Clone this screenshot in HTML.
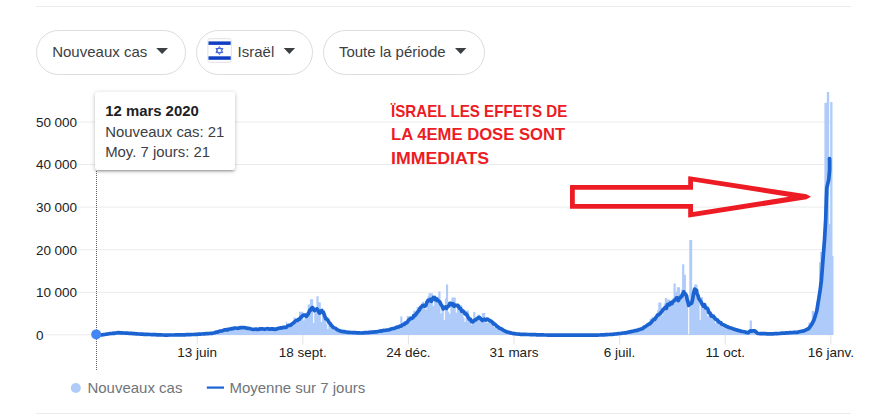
<!DOCTYPE html>
<html lang="fr">
<head>
<meta charset="utf-8">
<title>Israël - Nouveaux cas</title>
<style>
html,body{margin:0;padding:0;background:#fff;}
body{width:879px;height:419px;overflow:hidden;position:relative;font-family:"Liberation Sans",sans-serif;}
#root{position:absolute;left:0;top:0;width:879px;height:419px;overflow:hidden;background:#fff;}
.hr{position:absolute;left:36px;width:815px;height:1px;background:#ebebeb;}
.btn{position:absolute;top:30px;height:42.5px;border:1px solid #dadce0;border-radius:23px;background:#fff;box-sizing:content-box;}
.btn .t{position:absolute;top:11.6px;font-size:15px;line-height:18px;color:#3c4043;white-space:nowrap;}
.caret{position:absolute;top:17.2px;width:0;height:0;border-left:5.9px solid transparent;border-right:5.9px solid transparent;border-top:5.9px solid #3c4043;}
.yl{position:absolute;left:33px;padding:0 1.2px 0 3.1px;background:#fff;font-size:13.5px;line-height:16px;color:#202124;white-space:nowrap;}
.ts{display:inline-block;width:3.4px;}
.xl{position:absolute;top:344.5px;width:80px;text-align:center;font-size:13.5px;line-height:16px;color:#202124;white-space:nowrap;}
#tip{position:absolute;left:95px;top:92px;width:139.6px;height:77.5px;background:#fff;border-radius:2.5px;box-shadow:0 2px 2px 0 rgba(0,0,0,.14),0 3px 1px -2px rgba(0,0,0,.12),0 1px 5px 0 rgba(0,0,0,.2);}
#tip div{position:absolute;left:10.2px;white-space:nowrap;color:#3c4043;font-size:14.9px;line-height:18px;}
#tip .b{top:9.5px;font-weight:bold;color:#202124;}
.leg{position:absolute;top:378.5px;font-size:15px;line-height:18px;color:#70757a;white-space:nowrap;}
#red{position:absolute;left:390.9px;top:99.5px;color:#ed1c24;font-weight:bold;font-size:16.6px;line-height:23.9px;white-space:nowrap;}
#red span{display:block;transform-origin:0 0;}
svg{position:absolute;left:0;top:0;}
</style>
</head>
<body>
<div id="root">
<div class="hr" style="top:6px"></div>
<div class="hr" style="top:413px"></div>

<div class="btn" style="left:36px;width:147.5px"><span class="t" style="left:15.2px">Nouveaux cas</span></div>
<div class="btn" style="left:196px;width:115px"><span class="t" style="left:40.6px">Israël</span></div>
<div class="btn" style="left:323px;width:160px"><span class="t" style="left:14.9px">Toute la période</span></div>

<svg width="879" height="419" viewBox="0 0 879 419">
  <!-- flag -->
  <g>
    <rect x="207.9" y="38.7" width="23.4" height="23.6" rx="2.2" fill="#fff" stroke="#dfe1e5" stroke-width="1"/>
    <rect x="208.5" y="41.4" width="22.2" height="3.5" fill="#0f3fc2"/>
    <rect x="208.5" y="56.3" width="22.2" height="3.5" fill="#0f3fc2"/>
    <g fill="none" stroke="#3f66d6" stroke-width="1.0" stroke-linejoin="miter">
      <path d="M219.4 46.5L222.9 52.6H215.9Z"/>
      <path d="M219.4 54.6L222.9 48.5H215.9Z"/>
    </g>
  </g>
  <!-- carets -->
  <path d="M156.2 48.1H168.0L162.1 53.9ZM283.7 48.1H295.1L289.4 53.9ZM455.0 48.1H466.4L460.7 53.9Z" fill="#3c4043"/>
  <!-- grid -->
  <rect x="36" y="121.5" width="794" height="1" fill="#ebebeb"/><rect x="36" y="164.0" width="794" height="1" fill="#ebebeb"/><rect x="36" y="206.6" width="794" height="1" fill="#ebebeb"/><rect x="36" y="249.2" width="794" height="1" fill="#ebebeb"/><rect x="36" y="291.8" width="794" height="1" fill="#ebebeb"/><rect x="36" y="334.3" width="794" height="1" fill="#ebebeb"/>
  <rect x="196.7" y="335" width="1" height="9.5" fill="#e3e3e3"/><rect x="302.3" y="335" width="1" height="9.5" fill="#e3e3e3"/><rect x="407.9" y="335" width="1" height="9.5" fill="#e3e3e3"/><rect x="513.5" y="335" width="1" height="9.5" fill="#e3e3e3"/><rect x="619.1" y="335" width="1" height="9.5" fill="#e3e3e3"/><rect x="724.7" y="335" width="1" height="9.5" fill="#e3e3e3"/><rect x="830.3" y="335" width="1" height="9.5" fill="#e3e3e3"/>
  <!-- bars -->
  <path d="M96.49 335.0V334.8H97.58V335.0ZM97.58 335.0V334.8H98.67V335.0ZM98.67 335.0V334.8H99.76V335.0ZM99.76 335.0V334.8H100.85V335.0ZM100.85 335.0V334.8H101.94V335.0ZM101.94 335.0V334.6H103.03V335.0ZM103.03 335.0V334.5H104.12V335.0ZM104.12 335.0V334.4H105.20V335.0ZM105.20 335.0V334.3H106.29V335.0ZM106.29 335.0V334.0H107.38V335.0ZM107.38 335.0V333.7H108.47V335.0ZM108.47 335.0V333.5H109.56V335.0ZM109.56 335.0V333.4H110.65V335.0ZM110.65 335.0V333.2H111.74V335.0ZM111.74 335.0V333.5H112.82V335.0ZM112.82 335.0V333.6H113.91V335.0ZM113.91 335.0V333.0H115.00V335.0ZM115.00 335.0V332.6H116.09V335.0ZM116.09 335.0V332.6H117.18V335.0ZM117.18 335.0V332.6H118.27V335.0ZM118.27 335.0V332.5H119.36V335.0ZM119.36 335.0V333.1H120.45V335.0ZM120.45 335.0V333.3H121.53V335.0ZM121.53 335.0V333.0H122.62V335.0ZM122.62 335.0V332.9H123.71V335.0ZM123.71 335.0V333.0H124.80V335.0ZM124.80 335.0V333.0H125.89V335.0ZM125.89 335.0V333.0H126.98V335.0ZM126.98 335.0V333.4H128.07V335.0ZM128.07 335.0V333.7H129.16V335.0ZM129.16 335.0V333.4H130.24V335.0ZM130.24 335.0V333.4H131.33V335.0ZM131.33 335.0V333.4H132.42V335.0ZM132.42 335.0V333.6H133.51V335.0ZM133.51 335.0V333.7H134.60V335.0ZM134.60 335.0V333.9H135.69V335.0ZM135.69 335.0V334.1H136.78V335.0ZM136.78 335.0V334.0H137.86V335.0ZM137.86 335.0V334.0H138.95V335.0ZM138.95 335.0V334.0H140.04V335.0ZM140.04 335.0V334.1H141.13V335.0ZM141.13 335.0V334.2H142.22V335.0ZM142.22 335.0V334.3H143.31V335.0ZM143.31 335.0V334.4H144.40V335.0ZM144.40 335.0V334.4H145.49V335.0ZM145.49 335.0V334.3H146.57V335.0ZM146.57 335.0V334.4H147.66V335.0ZM147.66 335.0V334.4H148.75V335.0ZM148.75 335.0V334.5H149.84V335.0ZM149.84 335.0V334.6H150.93V335.0ZM150.93 335.0V334.7H152.02V335.0ZM152.02 335.0V334.7H153.11V335.0ZM153.11 335.0V334.7H154.20V335.0ZM154.20 335.0V334.7H155.28V335.0ZM155.28 335.0V334.8H156.37V335.0ZM156.37 335.0V334.8H157.46V335.0ZM182.50 335.0V334.8H183.59V335.0ZM183.59 335.0V334.8H184.68V335.0ZM184.68 335.0V334.7H185.77V335.0ZM185.77 335.0V334.7H186.86V335.0ZM186.86 335.0V334.6H187.95V335.0ZM187.95 335.0V334.7H189.03V335.0ZM189.03 335.0V334.7H190.12V335.0ZM190.12 335.0V334.5H191.21V335.0ZM191.21 335.0V334.4H192.30V335.0ZM192.30 335.0V334.4H193.39V335.0ZM193.39 335.0V334.4H194.48V335.0ZM194.48 335.0V334.3H195.57V335.0ZM195.57 335.0V334.3H196.65V335.0ZM196.65 335.0V334.4H197.74V335.0ZM197.74 335.0V334.1H198.83V335.0ZM198.83 335.0V334.0H199.92V335.0ZM199.92 335.0V333.9H201.01V335.0ZM201.01 335.0V333.9H202.10V335.0ZM202.10 335.0V333.8H203.19V335.0ZM203.19 335.0V333.8H204.28V335.0ZM204.28 335.0V334.0H205.36V335.0ZM205.36 335.0V333.7H206.45V335.0ZM206.45 335.0V333.5H207.54V335.0ZM207.54 335.0V333.4H208.63V335.0ZM208.63 335.0V333.4H209.72V335.0ZM209.72 335.0V333.3H210.81V335.0ZM210.81 335.0V333.5H211.90V335.0ZM211.90 335.0V333.5H212.99V335.0ZM212.99 335.0V332.8H214.07V335.0ZM214.07 335.0V332.2H215.16V335.0ZM215.16 335.0V331.9H216.25V335.0ZM216.25 335.0V331.5H217.34V335.0ZM217.34 335.0V331.3H218.43V335.0ZM218.43 335.0V331.5H219.52V335.0ZM219.52 335.0V331.8H220.61V335.0ZM220.61 335.0V330.6H221.69V335.0ZM221.69 335.0V330.1H222.78V335.0ZM222.78 335.0V329.5H223.87V335.0ZM223.87 335.0V329.4H224.96V335.0ZM224.96 335.0V329.2H226.05V335.0ZM226.05 335.0V329.7H227.14V335.0ZM227.14 335.0V330.5H228.23V335.0ZM228.23 335.0V329.1H229.32V335.0ZM229.32 335.0V328.4H230.40V335.0ZM230.40 335.0V328.0H231.49V335.0ZM231.49 335.0V328.3H232.58V335.0ZM232.58 335.0V328.2H233.67V335.0ZM233.67 335.0V328.9H234.76V335.0ZM234.76 335.0V329.8H235.85V335.0ZM235.85 335.0V328.1H236.94V335.0ZM236.94 335.0V327.6H238.03V335.0ZM238.03 335.0V327.8H239.11V335.0ZM239.11 335.0V327.7H240.20V335.0ZM240.20 335.0V327.8H241.29V335.0ZM241.29 335.0V328.5H242.38V335.0ZM242.38 335.0V329.6H243.47V335.0ZM243.47 335.0V327.4H244.56V335.0ZM244.56 335.0V327.1H245.65V335.0ZM245.65 335.0V327.8H246.73V335.0ZM246.73 335.0V328.1H247.82V335.0ZM247.82 335.0V328.3H248.91V335.0ZM248.91 335.0V329.3H250.00V335.0ZM250.00 335.0V330.5H251.09V335.0ZM251.09 335.0V329.0H252.18V335.0ZM252.18 335.0V328.5H253.27V335.0ZM253.27 335.0V328.9H254.36V335.0ZM254.36 335.0V328.9H255.44V335.0ZM255.44 335.0V329.2H256.53V335.0ZM256.53 335.0V329.8H257.62V335.0ZM257.62 335.0V330.5H258.71V335.0ZM258.71 335.0V329.2H259.80V335.0ZM259.80 335.0V328.1H260.89V335.0ZM260.89 335.0V328.6H261.98V335.0ZM261.98 335.0V328.9H263.07V335.0ZM263.07 335.0V328.3H264.15V335.0ZM264.15 335.0V329.4H265.24V335.0ZM265.24 335.0V330.5H266.33V335.0ZM266.33 335.0V329.0H267.42V335.0ZM267.42 335.0V328.7H268.51V335.0ZM268.51 335.0V328.5H269.60V335.0ZM269.60 335.0V328.4H270.69V335.0ZM270.69 335.0V328.5H271.78V335.0ZM271.78 335.0V329.4H272.86V335.0ZM272.86 335.0V330.5H273.95V335.0ZM273.95 335.0V329.1H275.04V335.0ZM275.04 335.0V328.4H276.13V335.0ZM276.13 335.0V328.0H277.22V335.0ZM277.22 335.0V328.0H278.31V335.0ZM278.31 335.0V327.7H279.40V335.0ZM279.40 335.0V328.8H280.48V335.0ZM280.48 335.0V329.6H281.57V335.0ZM281.57 335.0V327.5H282.66V335.0ZM282.66 335.0V326.4H283.75V335.0ZM283.75 335.0V326.4H284.84V335.0ZM284.84 335.0V326.0H285.93V335.0ZM285.93 335.0V321.8H287.02V335.0ZM287.02 335.0V326.4H288.11V335.0ZM288.11 335.0V327.7H289.19V335.0ZM289.19 335.0V324.8H290.28V335.0ZM290.28 335.0V323.5H291.37V335.0ZM291.37 335.0V323.2H292.46V335.0ZM292.46 335.0V322.6H293.55V335.0ZM293.55 335.0V317.6H294.64V335.0ZM294.64 335.0V317.6H295.73V335.0ZM295.73 335.0V323.1H296.82V335.0ZM296.82 335.0V318.5H297.90V335.0ZM297.90 335.0V316.9H298.99V335.0ZM298.99 335.0V311.8H300.08V335.0ZM300.08 335.0V311.8H301.17V335.0ZM301.17 335.0V311.8H302.26V335.0ZM302.26 335.0V311.8H303.35V335.0ZM303.35 335.0V320.4H304.44V335.0ZM304.44 335.0V316.8H305.52V335.0ZM305.52 335.0V313.8H306.61V335.0ZM306.61 335.0V312.1H307.70V335.0ZM307.70 335.0V304.4H308.79V335.0ZM308.79 335.0V304.4H309.88V335.0ZM309.88 335.0V299.2H310.97V335.0ZM310.97 335.0V299.2H312.06V335.0ZM312.06 335.0V299.2H313.15V335.0ZM313.15 335.0V323.0H314.23V335.0ZM314.23 335.0V309.2H315.32V335.0ZM315.32 335.0V308.2H316.41V335.0ZM316.41 335.0V296.3H317.50V335.0ZM317.50 335.0V296.3H318.59V335.0ZM318.59 335.0V302.2H319.68V335.0ZM319.68 335.0V302.2H320.77V335.0ZM320.77 335.0V322.0H321.86V335.0ZM321.86 335.0V309.7H322.94V335.0ZM322.94 335.0V314.3H324.03V335.0ZM324.03 335.0V316.6H325.12V335.0ZM325.12 335.0V320.0H326.21V335.0ZM326.21 335.0V324.0H327.30V335.0ZM327.30 335.0V329.0H328.39V335.0ZM328.39 335.0V321.7H329.48V335.0ZM329.48 335.0V323.6H330.56V335.0ZM330.56 335.0V325.7H331.65V335.0ZM331.65 335.0V327.0H332.74V335.0ZM332.74 335.0V328.6H333.83V335.0ZM333.83 335.0V329.7H334.92V335.0ZM334.92 335.0V329.0H336.01V335.0ZM336.01 335.0V329.5H337.10V335.0ZM337.10 335.0V330.0H338.19V335.0ZM338.19 335.0V330.4H339.27V335.0ZM339.27 335.0V330.8H340.36V335.0ZM340.36 335.0V331.7H341.45V335.0ZM341.45 335.0V332.3H342.54V335.0ZM342.54 335.0V331.9H343.63V335.0ZM343.63 335.0V331.8H344.72V335.0ZM344.72 335.0V331.8H345.81V335.0ZM345.81 335.0V332.0H346.90V335.0ZM346.90 335.0V332.2H347.98V335.0ZM347.98 335.0V332.5H349.07V335.0ZM349.07 335.0V333.0H350.16V335.0ZM350.16 335.0V332.4H351.25V335.0ZM351.25 335.0V332.2H352.34V335.0ZM352.34 335.0V332.5H353.43V335.0ZM353.43 335.0V332.6H354.52V335.0ZM354.52 335.0V332.7H355.60V335.0ZM355.60 335.0V333.0H356.69V335.0ZM356.69 335.0V333.3H357.78V335.0ZM357.78 335.0V333.0H358.87V335.0ZM358.87 335.0V332.8H359.96V335.0ZM359.96 335.0V332.9H361.05V335.0ZM361.05 335.0V332.7H362.14V335.0ZM362.14 335.0V332.7H363.23V335.0ZM363.23 335.0V332.9H364.31V335.0ZM364.31 335.0V333.1H365.40V335.0ZM365.40 335.0V332.5H366.49V335.0ZM366.49 335.0V332.3H367.58V335.0ZM367.58 335.0V332.1H368.67V335.0ZM368.67 335.0V332.2H369.76V335.0ZM369.76 335.0V332.1H370.85V335.0ZM370.85 335.0V332.4H371.94V335.0ZM371.94 335.0V332.8H373.02V335.0ZM373.02 335.0V332.0H374.11V335.0ZM374.11 335.0V331.7H375.20V335.0ZM375.20 335.0V331.7H376.29V335.0ZM376.29 335.0V331.3H377.38V335.0ZM377.38 335.0V331.4H378.47V335.0ZM378.47 335.0V331.5H379.56V335.0ZM379.56 335.0V331.9H380.65V335.0ZM380.65 335.0V330.9H381.73V335.0ZM381.73 335.0V330.4H382.82V335.0ZM382.82 335.0V330.2H383.91V335.0ZM383.91 335.0V330.1H385.00V335.0ZM385.00 335.0V329.8H386.09V335.0ZM386.09 335.0V330.6H387.18V335.0ZM387.18 335.0V330.9H388.27V335.0ZM388.27 335.0V329.6H389.35V335.0ZM389.35 335.0V328.7H390.44V335.0ZM390.44 335.0V328.2H391.53V335.0ZM391.53 335.0V328.2H392.62V335.0ZM392.62 335.0V327.9H393.71V335.0ZM393.71 335.0V328.4H394.80V335.0ZM394.80 335.0V329.1H395.89V335.0ZM395.89 335.0V327.5H396.98V335.0ZM396.98 335.0V326.2H398.06V335.0ZM398.06 335.0V325.9H399.15V335.0ZM399.15 335.0V325.4H400.24V335.0ZM400.24 335.0V316.4H401.33V335.0ZM401.33 335.0V316.4H402.42V335.0ZM402.42 335.0V326.5H403.51V335.0ZM403.51 335.0V323.5H404.60V335.0ZM404.60 335.0V321.1H405.69V335.0ZM405.69 335.0V320.7H406.77V335.0ZM406.77 335.0V316.0H407.86V335.0ZM407.86 335.0V316.0H408.95V335.0ZM408.95 335.0V316.0H410.04V335.0ZM410.04 335.0V316.0H411.13V335.0ZM411.13 335.0V316.0H412.22V335.0ZM412.22 335.0V313.7H413.31V335.0ZM413.31 335.0V310.4H414.39V335.0ZM414.39 335.0V310.4H415.48V335.0ZM415.48 335.0V312.1H416.57V335.0ZM416.57 335.0V306.9H417.66V335.0ZM417.66 335.0V306.9H418.75V335.0ZM418.75 335.0V306.9H419.84V335.0ZM419.84 335.0V304.7H420.93V335.0ZM420.93 335.0V303.5H422.02V335.0ZM422.02 335.0V301.8H423.10V335.0ZM423.10 335.0V301.8H424.19V335.0ZM424.19 335.0V305.5H425.28V335.0ZM425.28 335.0V309.5H426.37V335.0ZM426.37 335.0V303.1H427.46V335.0ZM427.46 335.0V296.3H428.55V335.0ZM428.55 335.0V293.2H429.64V335.0ZM429.64 335.0V293.2H430.73V335.0ZM430.73 335.0V293.2H431.81V335.0ZM431.81 335.0V293.2H432.90V335.0ZM432.90 335.0V306.0H433.99V335.0ZM433.99 335.0V297.2H435.08V335.0ZM435.08 335.0V295.6H436.17V335.0ZM436.17 335.0V299.4H437.26V335.0ZM437.26 335.0V299.7H438.35V335.0ZM438.35 335.0V291.5H439.43V335.0ZM439.43 335.0V291.5H440.52V335.0ZM440.52 335.0V313.5H441.61V335.0ZM441.61 335.0V309.2H442.70V335.0ZM442.70 335.0V304.9H443.79V335.0ZM443.79 335.0V320.0H444.88V335.0ZM444.88 335.0V298.6H445.97V335.0ZM445.97 335.0V284.6H447.06V335.0ZM447.06 335.0V284.6H448.14V335.0ZM448.14 335.0V311.8H449.23V335.0ZM449.23 335.0V314.0H450.32V335.0ZM450.32 335.0V301.0H451.41V335.0ZM451.41 335.0V297.5H452.50V335.0ZM452.50 335.0V297.5H453.59V335.0ZM453.59 335.0V297.5H454.68V335.0ZM454.68 335.0V297.5H455.77V335.0ZM455.77 335.0V312.8H456.85V335.0ZM456.85 335.0V306.8H457.94V335.0ZM457.94 335.0V306.1H459.03V335.0ZM459.03 335.0V305.2H460.12V335.0ZM460.12 335.0V305.2H461.21V335.0ZM461.21 335.0V305.2H462.30V335.0ZM462.30 335.0V314.3H463.39V335.0ZM463.39 335.0V317.4H464.47V335.0ZM464.47 335.0V322.0H465.56V335.0ZM465.56 335.0V310.4H466.65V335.0ZM466.65 335.0V310.4H467.74V335.0ZM467.74 335.0V310.4H468.83V335.0ZM468.83 335.0V319.1H469.92V335.0ZM469.92 335.0V322.2H471.01V335.0ZM471.01 335.0V324.7H472.10V335.0ZM472.10 335.0V321.3H473.18V335.0ZM473.18 335.0V312.0H474.27V335.0ZM474.27 335.0V312.0H475.36V335.0ZM475.36 335.0V318.8H476.45V335.0ZM476.45 335.0V316.7H477.54V335.0ZM477.54 335.0V314.6H478.63V335.0ZM478.63 335.0V314.6H479.72V335.0ZM479.72 335.0V320.0H480.81V335.0ZM480.81 335.0V317.9H481.89V335.0ZM481.89 335.0V313.0H482.98V335.0ZM482.98 335.0V313.0H484.07V335.0ZM484.07 335.0V313.0H485.16V335.0ZM485.16 335.0V321.1H486.25V335.0ZM486.25 335.0V322.9H487.34V335.0ZM487.34 335.0V319.5H488.43V335.0ZM488.43 335.0V319.8H489.52V335.0ZM489.52 335.0V321.0H490.60V335.0ZM490.60 335.0V321.4H491.69V335.0ZM491.69 335.0V322.7H492.78V335.0ZM492.78 335.0V325.2H493.87V335.0ZM493.87 335.0V327.3H494.96V335.0ZM494.96 335.0V326.1H496.05V335.0ZM496.05 335.0V326.0H497.14V335.0ZM497.14 335.0V327.0H498.22V335.0ZM498.22 335.0V328.0H499.31V335.0ZM499.31 335.0V328.4H500.40V335.0ZM500.40 335.0V330.0H501.49V335.0ZM501.49 335.0V331.1H502.58V335.0ZM502.58 335.0V330.7H503.67V335.0ZM503.67 335.0V330.8H504.76V335.0ZM504.76 335.0V331.6H505.85V335.0ZM505.85 335.0V331.9H506.93V335.0ZM506.93 335.0V332.3H508.02V335.0ZM508.02 335.0V332.7H509.11V335.0ZM509.11 335.0V333.3H510.20V335.0ZM510.20 335.0V333.2H511.29V335.0ZM511.29 335.0V333.3H512.38V335.0ZM512.38 335.0V333.5H513.47V335.0ZM513.47 335.0V333.7H514.56V335.0ZM514.56 335.0V333.8H515.64V335.0ZM515.64 335.0V334.1H516.73V335.0ZM516.73 335.0V334.3H517.82V335.0ZM517.82 335.0V334.2H518.91V335.0ZM518.91 335.0V334.2H520.00V335.0ZM520.00 335.0V334.3H521.09V335.0ZM521.09 335.0V334.3H522.18V335.0ZM522.18 335.0V334.3H523.26V335.0ZM523.26 335.0V334.5H524.35V335.0ZM524.35 335.0V334.6H525.44V335.0ZM525.44 335.0V334.5H526.53V335.0ZM526.53 335.0V334.5H527.62V335.0ZM527.62 335.0V334.5H528.71V335.0ZM528.71 335.0V334.6H529.80V335.0ZM529.80 335.0V334.6H530.89V335.0ZM530.89 335.0V334.7H531.97V335.0ZM531.97 335.0V334.7H533.06V335.0ZM533.06 335.0V334.7H534.15V335.0ZM534.15 335.0V334.7H535.24V335.0ZM535.24 335.0V334.7H536.33V335.0ZM536.33 335.0V334.8H537.42V335.0ZM537.42 335.0V334.8H538.51V335.0ZM601.65 335.0V334.8H602.74V335.0ZM602.74 335.0V334.7H603.83V335.0ZM603.83 335.0V334.7H604.92V335.0ZM604.92 335.0V334.6H606.01V335.0ZM606.01 335.0V334.6H607.09V335.0ZM607.09 335.0V334.6H608.18V335.0ZM608.18 335.0V334.6H609.27V335.0ZM609.27 335.0V334.4H610.36V335.0ZM610.36 335.0V334.3H611.45V335.0ZM611.45 335.0V334.2H612.54V335.0ZM612.54 335.0V334.1H613.63V335.0ZM613.63 335.0V334.0H614.72V335.0ZM614.72 335.0V334.0H615.80V335.0ZM615.80 335.0V334.0H616.89V335.0ZM616.89 335.0V333.6H617.98V335.0ZM617.98 335.0V333.3H619.07V335.0ZM619.07 335.0V333.2H620.16V335.0ZM620.16 335.0V333.2H621.25V335.0ZM621.25 335.0V333.0H622.34V335.0ZM622.34 335.0V333.2H623.43V335.0ZM623.43 335.0V333.4H624.51V335.0ZM624.51 335.0V332.7H625.60V335.0ZM625.60 335.0V332.2H626.69V335.0ZM626.69 335.0V332.1H627.78V335.0ZM627.78 335.0V331.8H628.87V335.0ZM628.87 335.0V331.5H629.96V335.0ZM629.96 335.0V331.8H631.05V335.0ZM631.05 335.0V332.1H632.13V335.0ZM632.13 335.0V331.0H633.22V335.0ZM633.22 335.0V330.3H634.31V335.0ZM634.31 335.0V330.1H635.40V335.0ZM635.40 335.0V330.0H636.49V335.0ZM636.49 335.0V329.7H637.58V335.0ZM637.58 335.0V330.4H638.67V335.0ZM638.67 335.0V330.9H639.76V335.0ZM639.76 335.0V329.0H640.84V335.0ZM640.84 335.0V327.5H641.93V335.0ZM641.93 335.0V327.3H643.02V335.0ZM643.02 335.0V326.6H644.11V335.0ZM644.11 335.0V326.5H645.20V335.0ZM645.20 335.0V327.0H646.29V335.0ZM646.29 335.0V327.5H647.38V335.0ZM647.38 335.0V324.1H648.47V335.0ZM648.47 335.0V321.9H649.55V335.0ZM649.55 335.0V318.8H650.64V335.0ZM650.64 335.0V318.8H651.73V335.0ZM651.73 335.0V316.7H652.82V335.0ZM652.82 335.0V316.7H653.91V335.0ZM653.91 335.0V322.1H655.00V335.0ZM655.00 335.0V317.8H656.09V335.0ZM656.09 335.0V313.1H657.17V335.0ZM657.17 335.0V310.2H658.26V335.0ZM658.26 335.0V302.4H659.35V335.0ZM659.35 335.0V302.4H660.44V335.0ZM660.44 335.0V302.4H661.53V335.0ZM661.53 335.0V315.4H662.62V335.0ZM662.62 335.0V307.7H663.71V335.0ZM663.71 335.0V303.4H664.80V335.0ZM664.80 335.0V298.0H665.88V335.0ZM665.88 335.0V298.0H666.97V335.0ZM666.97 335.0V299.5H668.06V335.0ZM668.06 335.0V299.5H669.15V335.0ZM669.15 335.0V299.5H670.24V335.0ZM670.24 335.0V302.0H671.33V335.0ZM671.33 335.0V299.5H672.42V335.0ZM672.42 335.0V298.0H673.51V335.0ZM673.51 335.0V283.4H674.59V335.0ZM674.59 335.0V283.4H675.68V335.0ZM675.68 335.0V291.6H676.77V335.0ZM676.77 335.0V287.3H677.86V335.0ZM677.86 335.0V287.3H678.95V335.0ZM678.95 335.0V287.3H680.04V335.0ZM680.04 335.0V293.4H681.13V335.0ZM681.13 335.0V289.3H682.21V335.0ZM682.21 335.0V289.8H683.30V335.0ZM683.30 335.0V298.6H684.39V335.0ZM684.39 335.0V305.4H685.48V335.0ZM685.48 335.0V298.0H686.57V335.0ZM686.57 335.0V299.8H687.66V335.0ZM687.66 335.0V303.3H688.75V335.0ZM688.75 335.0V303.6H689.84V335.0ZM689.84 335.0V302.4H690.92V335.0ZM690.92 335.0V302.8H692.01V335.0ZM692.01 335.0V302.2H693.10V335.0ZM693.10 335.0V292.6H694.19V335.0ZM694.19 335.0V284.4H695.28V335.0ZM695.28 335.0V284.4H696.37V335.0ZM696.37 335.0V284.4H697.46V335.0ZM697.46 335.0V295.3H698.55V335.0ZM698.55 335.0V297.0H699.63V335.0ZM699.63 335.0V320.0H700.72V335.0ZM700.72 335.0V297.0H701.81V335.0ZM701.81 335.0V297.0H702.90V335.0ZM702.90 335.0V303.9H703.99V335.0ZM703.99 335.0V303.6H705.08V335.0ZM705.08 335.0V306.1H706.17V335.0ZM706.17 335.0V311.4H707.26V335.0ZM707.26 335.0V316.4H708.34V335.0ZM708.34 335.0V313.4H709.43V335.0ZM709.43 335.0V313.7H710.52V335.0ZM710.52 335.0V314.9H711.61V335.0ZM711.61 335.0V314.8H712.70V335.0ZM712.70 335.0V314.5H713.79V335.0ZM713.79 335.0V314.5H714.88V335.0ZM714.88 335.0V323.3H715.96V335.0ZM715.96 335.0V321.1H717.05V335.0ZM717.05 335.0V320.4H718.14V335.0ZM718.14 335.0V321.8H719.23V335.0ZM719.23 335.0V322.5H720.32V335.0ZM720.32 335.0V322.7H721.41V335.0ZM721.41 335.0V324.9H722.50V335.0ZM722.50 335.0V327.1H723.59V335.0ZM723.59 335.0V325.7H724.67V335.0ZM724.67 335.0V325.2H725.76V335.0ZM725.76 335.0V325.8H726.85V335.0ZM726.85 335.0V326.7H727.94V335.0ZM727.94 335.0V327.1H729.03V335.0ZM729.03 335.0V328.8H730.12V335.0ZM730.12 335.0V329.7H731.21V335.0ZM731.21 335.0V328.7H732.30V335.0ZM732.30 335.0V328.3H733.38V335.0ZM733.38 335.0V328.9H734.47V335.0ZM734.47 335.0V329.6H735.56V335.0ZM735.56 335.0V330.2H736.65V335.0ZM736.65 335.0V330.7H737.74V335.0ZM737.74 335.0V331.8H738.83V335.0ZM738.83 335.0V331.0H739.92V335.0ZM739.92 335.0V330.9H741.00V335.0ZM741.00 335.0V331.3H742.09V335.0ZM742.09 335.0V331.5H743.18V335.0ZM743.18 335.0V331.7H744.27V335.0ZM744.27 335.0V332.5H745.36V335.0ZM745.36 335.0V333.0H746.45V335.0ZM746.45 335.0V332.8H747.54V335.0ZM747.54 335.0V331.7H748.63V335.0ZM748.63 335.0V330.7H749.71V335.0ZM749.71 335.0V320.6H750.80V335.0ZM750.80 335.0V320.6H751.89V335.0ZM751.89 335.0V331.4H752.98V335.0ZM752.98 335.0V331.8H754.07V335.0ZM754.07 335.0V331.6H755.16V335.0ZM755.16 335.0V332.5H756.25V335.0ZM756.25 335.0V333.3H757.34V335.0ZM757.34 335.0V333.4H758.42V335.0ZM758.42 335.0V333.5H759.51V335.0ZM759.51 335.0V333.8H760.60V335.0ZM760.60 335.0V334.0H761.69V335.0ZM761.69 335.0V333.7H762.78V335.0ZM762.78 335.0V333.6H763.87V335.0ZM763.87 335.0V333.7H764.96V335.0ZM764.96 335.0V333.7H766.04V335.0ZM766.04 335.0V333.7H767.13V335.0ZM767.13 335.0V333.9H768.22V335.0ZM768.22 335.0V334.0H769.31V335.0ZM769.31 335.0V333.8H770.40V335.0ZM770.40 335.0V333.8H771.49V335.0ZM771.49 335.0V333.8H772.58V335.0ZM772.58 335.0V333.7H773.67V335.0ZM773.67 335.0V333.7H774.75V335.0ZM774.75 335.0V333.8H775.84V335.0ZM775.84 335.0V333.9H776.93V335.0ZM776.93 335.0V333.5H778.02V335.0ZM778.02 335.0V333.2H779.11V335.0ZM779.11 335.0V333.3H780.20V335.0ZM780.20 335.0V333.2H781.29V335.0ZM781.29 335.0V333.1H782.38V335.0ZM782.38 335.0V333.2H783.46V335.0ZM783.46 335.0V333.5H784.55V335.0ZM784.55 335.0V333.0H785.64V335.0ZM785.64 335.0V332.8H786.73V335.0ZM786.73 335.0V332.7H787.82V335.0ZM787.82 335.0V332.7H788.91V335.0ZM788.91 335.0V332.5H790.00V335.0ZM790.00 335.0V332.8H791.08V335.0ZM791.08 335.0V333.1H792.17V335.0ZM792.17 335.0V332.6H793.26V335.0ZM793.26 335.0V332.3H794.35V335.0ZM794.35 335.0V332.1H795.44V335.0ZM795.44 335.0V332.1H796.53V335.0ZM796.53 335.0V332.0H797.62V335.0ZM797.62 335.0V332.1H798.71V335.0ZM798.71 335.0V332.5H799.79V335.0ZM799.79 335.0V331.4H800.88V335.0ZM800.88 335.0V330.5H801.97V335.0ZM801.97 335.0V330.3H803.06V335.0ZM803.06 335.0V330.1H804.15V335.0ZM804.15 335.0V329.6H805.24V335.0ZM805.24 335.0V330.1H806.33V335.0ZM806.33 335.0V330.5H807.42V335.0ZM807.42 335.0V328.4H808.50V335.0ZM808.50 335.0V322.5H809.59V335.0ZM809.59 335.0V322.5H810.68V335.0ZM810.68 335.0V322.2H811.77V335.0ZM811.77 335.0V311.0H812.86V335.0ZM812.86 335.0V311.0H813.95V335.0ZM813.95 335.0V319.0H815.04V335.0ZM815.04 335.0V311.6H816.13V335.0ZM816.13 335.0V302.4H817.21V335.0ZM817.21 335.0V297.8H818.30V335.0ZM818.30 335.0V288.2H819.39V335.0ZM689.30 335.0V240.0H692.15V335.0ZM682.10 335.0V264.2H684.30V335.0ZM684.30 335.0V274.7H685.90V335.0ZM819.00 335.0V262.0H820.20V335.0ZM820.20 335.0V252.0H822.00V335.0ZM822.00 335.0V246.0H823.20V335.0ZM823.20 335.0V238.0H824.40V335.0ZM824.40 335.0V102.7H826.80V335.0ZM826.80 335.0V91.9H829.20V335.0ZM829.20 335.0V224.0H830.20V335.0ZM830.20 335.0V102.0H832.50V335.0ZM832.50 335.0V256.0H833.50V335.0Z" fill="#aecbfa"/>
  <rect x="688.15" y="296" width="1.1" height="38.3" fill="#fff"/>
  <!-- dotted guide -->
  <line x1="96.5" y1="171" x2="96.5" y2="370" stroke="#5f6368" stroke-width="1" stroke-dasharray="1 1"/>
  <!-- average line -->
  <path d="M97.0 334.8L98.1 334.8L99.2 334.8L100.3 334.8L101.4 334.8L102.5 334.8L103.6 334.6L104.7 334.5L105.7 334.3L106.8 334.1L107.9 334.0L109.0 333.8L110.1 333.6L111.2 333.5L112.3 333.4L113.4 333.2L114.5 333.3L115.5 333.0L116.6 332.9L117.7 332.7L118.8 332.7L119.9 332.8L121.0 332.8L122.1 332.9L123.2 333.0L124.3 333.0L125.3 333.1L126.4 333.1L127.5 333.1L128.6 333.3L129.7 333.3L130.8 333.4L131.9 333.4L133.0 333.6L134.1 333.6L135.1 333.7L136.2 333.9L137.3 333.9L138.4 334.0L139.5 334.0L140.6 334.1L141.7 334.2L142.8 334.2L143.9 334.3L144.9 334.3L146.0 334.3L147.1 334.4L148.2 334.4L149.3 334.5L150.4 334.5L151.5 334.6L152.6 334.6L153.7 334.7L154.7 334.7L155.8 334.7L156.9 334.8L158.0 334.8L159.1 334.9L160.2 334.9L161.3 334.9L162.4 335.0L163.4 335.0L164.5 335.1L165.6 335.1L166.7 335.1L167.8 335.1L168.9 335.0L170.0 335.0L171.1 335.0L172.2 335.0L173.2 335.0L174.3 335.0L175.4 334.9L176.5 334.9L177.6 334.9L178.7 334.9L179.8 334.9L180.9 334.9L182.0 334.8L183.0 334.8L184.1 334.8L185.2 334.8L186.3 334.7L187.4 334.7L188.5 334.7L189.6 334.6L190.7 334.6L191.8 334.5L192.8 334.5L193.9 334.5L195.0 334.4L196.1 334.4L197.2 334.3L198.3 334.2L199.4 334.1L200.5 334.1L201.6 334.0L202.6 334.0L203.7 333.9L204.8 333.8L205.9 333.7L207.0 333.7L208.1 333.6L209.2 333.5L210.3 333.4L211.4 333.3L212.4 333.3L213.5 333.0L214.6 332.8L215.7 332.3L216.8 332.1L217.9 331.9L219.0 331.5L220.1 331.0L221.2 331.0L222.2 330.9L223.3 330.4L224.4 329.9L225.5 329.8L226.6 329.7L227.7 329.8L228.8 329.3L229.9 329.0L230.9 329.0L232.0 328.5L233.1 328.7L234.2 328.0L235.3 328.0L236.4 328.2L237.5 328.3L238.6 328.1L239.7 328.0L240.7 327.5L241.8 327.7L242.9 327.7L244.0 327.6L245.1 327.8L246.2 327.9L247.3 328.3L248.4 328.4L249.5 328.5L250.5 328.8L251.6 329.1L252.7 329.3L253.8 329.3L254.9 329.3L256.0 329.1L257.1 329.5L258.2 329.4L259.3 329.1L260.3 328.9L261.4 328.8L262.5 328.9L263.6 329.0L264.7 329.3L265.8 329.0L266.9 328.8L268.0 328.6L269.1 329.2L270.1 329.1L271.2 328.8L272.3 329.1L273.4 328.8L274.5 329.5L275.6 329.2L276.7 328.9L277.8 328.6L278.9 328.1L279.9 328.2L281.0 327.8L282.1 328.0L283.2 327.3L284.3 327.3L285.4 327.5L286.5 327.1L287.6 326.0L288.6 325.4L289.7 325.5L290.8 325.1L291.9 324.0L293.0 323.3L294.1 322.4L295.2 321.3L296.3 320.6L297.4 320.5L298.0 319.5L298.4 319.5L299.5 319.3L300.6 317.5L301.7 316.7L302.8 315.5L303.9 315.1L303.9 315.2L305.0 315.1L306.1 315.4L306.3 316.5L307.2 315.3L308.2 313.9L309.3 311.6L310.0 309.8L310.4 310.3L311.5 308.5L312.2 307.6L312.6 307.6L313.7 309.6L314.4 310.5L314.8 310.1L315.9 309.3L316.6 309.8L317.0 309.0L318.0 310.4L319.1 312.6L319.6 313.1L320.2 312.5L321.3 310.8L321.8 310.5L322.4 312.1L323.3 312.0L323.5 312.6L324.6 315.7L325.5 317.9L325.7 318.7L326.8 319.1L327.8 320.1L328.9 322.5L329.2 322.6L330.0 323.3L331.1 325.2L332.2 326.2L333.3 327.4L334.4 328.0L335.5 328.2L336.6 329.3L337.6 329.8L338.7 330.5L339.8 330.8L340.9 331.2L342.0 331.4L343.1 331.6L344.2 331.6L345.3 331.9L346.4 332.0L347.4 332.3L348.5 332.4L349.6 332.3L350.7 332.5L351.8 332.5L352.9 332.6L354.0 332.6L355.1 332.6L356.1 332.7L357.2 332.9L358.3 332.9L359.4 332.9L360.5 333.0L361.6 333.0L362.7 332.9L363.8 332.8L364.9 332.7L365.9 332.6L367.0 332.5L368.1 332.6L369.2 332.4L370.3 332.3L371.4 332.2L372.5 332.2L373.6 332.1L374.7 331.9L375.7 331.9L376.8 331.8L377.9 331.5L379.0 331.3L380.1 331.1L381.2 330.9L382.3 331.0L383.4 330.4L384.5 330.5L385.5 330.3L386.6 330.1L387.7 330.0L388.8 329.9L389.9 329.4L391.0 329.1L392.1 328.7L393.2 328.5L394.3 328.4L395.3 327.9L396.4 327.4L397.5 327.1L398.6 326.9L399.7 326.2L400.8 326.2L401.9 325.4L403.0 324.6L404.1 324.5L405.1 323.2L406.2 323.1L406.3 322.8L407.3 322.2L408.4 320.4L409.5 319.4L410.6 318.6L411.7 318.5L412.8 317.8L413.9 315.6L414.9 315.8L415.8 314.5L416.0 314.0L417.1 312.7L418.2 311.3L419.3 310.1L420.4 307.8L421.5 307.0L422.6 305.5L423.5 305.4L423.6 305.7L424.7 306.2L425.8 305.5L426.9 302.4L428.0 300.3L429.1 300.7L430.2 299.3L431.2 299.4L431.3 301.3L432.4 299.4L433.4 297.5L434.5 298.7L434.6 297.7L435.6 299.7L436.4 300.2L436.7 298.8L437.8 300.4L438.9 301.3L439.8 302.0L440.0 302.4L441.1 304.6L442.2 306.4L443.2 308.8L443.2 308.9L444.3 307.8L445.4 307.0L446.5 308.3L447.5 306.6L447.6 306.8L448.7 306.0L449.8 303.4L450.9 303.7L451.0 303.7L452.0 304.9L453.0 303.6L454.1 306.2L454.4 305.4L455.2 305.1L456.3 305.7L457.4 305.3L457.8 305.4L458.5 306.4L459.6 308.5L460.7 308.6L461.8 311.3L462.1 310.6L462.8 310.8L463.9 311.8L465.0 313.9L466.1 313.9L467.2 315.4L467.3 315.7L468.3 317.5L469.4 319.1L470.5 319.3L471.6 321.7L471.6 321.6L472.6 321.9L473.7 321.1L474.8 320.1L475.9 319.7L475.9 319.4L477.0 318.8L478.1 317.7L479.2 317.4L479.3 317.4L480.3 318.3L481.3 319.4L481.9 320.0L482.4 320.5L483.5 319.8L484.6 319.2L485.7 320.1L486.8 319.1L487.9 319.3L487.9 319.5L489.0 320.1L490.1 320.8L491.1 321.2L492.2 322.2L493.0 322.8L493.3 323.8L494.4 323.8L495.5 324.8L496.6 326.0L497.7 326.8L498.8 327.6L499.9 328.5L500.9 328.6L502.0 329.3L503.1 330.1L504.2 330.6L505.3 331.3L506.4 331.7L507.5 332.1L508.6 332.3L509.7 332.6L510.7 332.9L511.8 333.2L512.9 333.4L514.0 333.6L515.1 333.7L516.2 333.9L517.3 334.0L518.4 334.1L519.5 334.2L520.5 334.3L521.6 334.3L522.7 334.4L523.8 334.4L524.9 334.4L526.0 334.4L527.1 334.5L528.2 334.5L529.3 334.5L530.3 334.6L531.4 334.6L532.5 334.6L533.6 334.7L534.7 334.7L535.8 334.7L536.9 334.8L538.0 334.8L539.1 334.8L540.1 334.8L541.2 334.9L542.3 334.9L543.4 334.9L544.5 335.0L545.6 335.0L546.7 335.0L547.8 335.1L548.8 335.1L549.9 335.1L551.0 335.1L552.1 335.2L553.2 335.2L554.3 335.2L555.4 335.2L556.5 335.2L557.6 335.2L558.6 335.2L559.7 335.2L560.8 335.2L561.9 335.2L563.0 335.2L564.1 335.2L565.2 335.2L566.3 335.2L567.4 335.2L568.4 335.2L569.5 335.2L570.6 335.2L571.7 335.2L572.8 335.2L573.9 335.2L575.0 335.2L576.1 335.2L577.2 335.2L578.2 335.2L579.3 335.2L580.4 335.2L581.5 335.2L582.6 335.2L583.7 335.2L584.8 335.2L585.9 335.2L587.0 335.2L588.0 335.2L589.1 335.2L590.2 335.2L591.3 335.2L592.4 335.2L593.5 335.2L594.6 335.2L595.7 335.2L596.8 335.2L597.8 335.1L598.9 335.0L600.0 335.0L601.1 334.9L602.2 334.9L603.3 334.8L604.4 334.8L605.5 334.7L606.6 334.6L607.6 334.6L608.7 334.5L609.8 334.5L610.9 334.4L612.0 334.3L613.1 334.3L614.2 334.1L615.3 334.0L616.3 333.9L617.4 333.8L618.5 333.6L619.6 333.5L620.7 333.5L621.8 333.2L622.9 333.0L624.0 333.0L625.1 332.8L626.1 332.8L627.2 332.4L628.3 332.2L629.4 331.9L630.5 331.8L631.6 331.4L632.7 331.3L633.8 331.0L634.9 330.7L635.9 330.6L637.0 330.4L638.1 330.0L639.2 329.6L640.3 329.3L641.4 328.9L642.5 328.7L643.6 327.6L644.7 326.9L645.7 326.3L646.8 325.6L647.9 324.8L649.0 324.1L650.1 323.7L651.2 322.3L652.3 321.2L653.4 319.8L654.3 319.7L654.5 319.6L655.5 318.2L656.6 316.4L657.7 315.1L658.6 314.7L658.8 314.4L659.9 313.9L661.0 312.5L662.1 311.0L663.2 309.4L664.3 308.7L664.4 308.3L665.3 307.5L666.4 308.3L667.5 304.6L668.6 304.3L669.7 304.8L670.1 303.3L670.8 302.6L671.9 303.5L673.0 301.5L674.0 300.9L675.1 299.8L675.8 299.7L676.2 298.1L677.3 297.8L678.4 300.5L679.5 298.2L680.6 297.6L680.8 296.8L681.7 296.4L682.8 294.1L683.7 291.8L683.8 293.2L684.9 293.3L686.0 295.0L686.6 296.1L687.1 299.4L688.2 302.9L688.7 305.4L689.3 303.9L690.4 304.0L691.5 302.9L691.6 303.3L692.6 299.5L693.6 293.0L694.4 290.4L694.7 289.1L695.8 290.0L696.6 290.4L696.9 293.5L698.0 295.6L698.7 298.3L699.1 299.0L700.2 300.5L701.3 302.4L702.4 304.6L703.0 304.7L703.4 306.2L704.5 304.6L705.6 308.0L706.7 307.8L707.3 308.3L707.8 309.0L708.9 312.6L710.0 313.0L710.9 314.7L711.1 315.9L712.2 316.2L713.2 316.1L714.3 317.7L714.5 317.6L715.4 318.9L716.5 319.7L717.6 320.0L718.1 321.4L718.7 321.6L719.8 322.4L720.9 322.8L722.0 324.4L723.0 324.5L724.1 325.1L725.2 325.8L726.3 326.3L727.4 326.7L728.5 327.3L729.6 327.7L730.7 327.9L731.8 328.4L732.8 328.5L733.9 329.2L735.0 329.4L736.1 329.9L737.2 330.1L738.3 330.4L739.4 330.8L740.5 330.9L741.5 331.5L742.6 331.5L743.7 331.7L744.8 331.9L745.9 332.4L747.0 332.6L748.1 332.8L749.2 331.8L750.3 330.9L751.3 331.1L752.4 330.9L753.5 330.9L754.6 330.9L755.7 331.6L756.8 332.8L757.9 333.5L759.0 333.5L760.1 333.7L761.1 333.7L762.2 333.6L763.3 333.7L764.4 333.7L765.5 333.7L766.6 333.8L767.7 333.8L768.8 333.8L769.9 333.8L770.9 333.9L772.0 333.9L773.1 333.9L774.2 333.7L775.3 333.7L776.4 333.6L777.5 333.6L778.6 333.5L779.7 333.5L780.7 333.3L781.8 333.2L782.9 333.2L784.0 333.1L785.1 333.1L786.2 332.9L787.3 332.9L788.4 332.8L789.5 332.7L790.5 332.7L791.6 332.7L792.7 332.5L793.8 332.4L794.9 332.3L796.0 332.3L797.1 332.4L798.2 332.1L799.3 331.7L800.3 331.5L801.4 331.3L802.5 331.2L803.6 330.9L804.7 330.5L805.0 330.4L808.8 328.5L812.0 323.9L813.9 320.2L816.8 310.8L818.7 299.3L820.2 289.8L821.4 280.2L823.0 259.3L824.5 240.2L825.7 219.3L826.3 200.2L826.8 187.9L828.8 179.3L829.6 169.8L829.6 160.2L829.5 158.7" fill="none" stroke="#1a63d1" stroke-width="3.7" stroke-linejoin="round" stroke-linecap="round"/>
  <circle cx="96.2" cy="334.4" r="5" fill="#4285f4"/>
  <!-- red arrow -->
  <path d="M570.6 184.9H688.2V176.7Q688.2 176.0 689 176.2L806.5 194.3L810.9 196.8L806.5 199.3L689 217.4Q688.2 217.6 688.2 216.9V208.8H570.6Q570 208.8 570 208.2V185.5Q570 184.9 570.6 184.9ZM574.8 189.7V204.0H693.0V212.1L788.8 196.8L693.0 181.6V189.7Z" fill="#ed1c24" fill-rule="evenodd"/>
  <!-- legend -->
  <circle cx="75.8" cy="388" r="5" fill="#aecbfa"/>
  <rect x="206.8" y="386.5" width="17.2" height="2.2" fill="#1a63d1"/>
</svg>

<div class="yl" style="top:114.8px">50<span class="ts"></span>000</div><div class="yl" style="top:157.3px">40<span class="ts"></span>000</div><div class="yl" style="top:199.9px">30<span class="ts"></span>000</div><div class="yl" style="top:242.5px">20<span class="ts"></span>000</div><div class="yl" style="top:285.1px">10<span class="ts"></span>000</div><div class="yl" style="top:327.6px">0</div>
<div class="xl" style="left:157.2px">13 juin</div><div class="xl" style="left:262.8px">18 sept.</div><div class="xl" style="left:368.4px">24 déc.</div><div class="xl" style="left:474.0px">31 mars</div><div class="xl" style="left:579.6px">6 juil.</div><div class="xl" style="left:685.2px">11 oct.</div><div class="xl" style="left:790.8px">16 janv.</div>

<div id="red"><span style="transform:scaleX(.912)">ÏSRAEL LES EFFETS DE</span><span style="transform:scaleX(1.003)">LA 4EME DOSE SONT</span><span style="transform:scaleX(1.068)">IMMEDIATS</span></div>

<div id="tip">
  <div class="b">12 mars 2020</div>
  <div style="top:31.3px">Nouveaux cas: 21</div>
  <div style="top:51.4px">Moy. 7 jours: 21</div>
</div>

<div class="leg" style="left:87.4px">Nouveaux cas</div>
<div class="leg" style="left:229.4px">Moyenne sur 7 jours</div>
</div>
</body>
</html>
